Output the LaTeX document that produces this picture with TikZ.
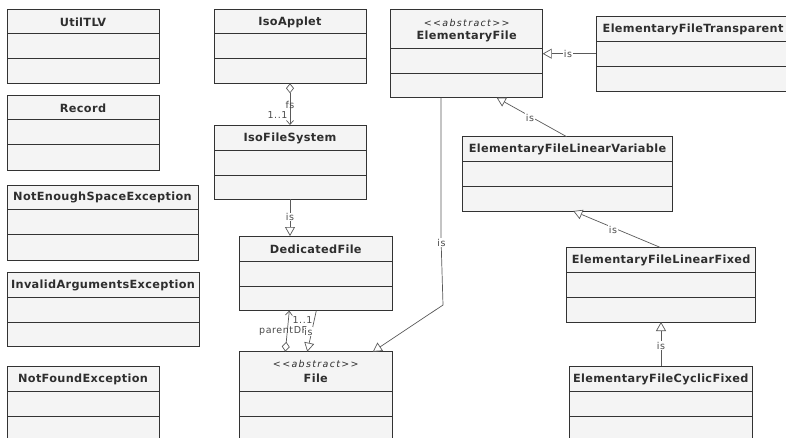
\documentclass[tikz,border=0pt]{standalone}
\usepackage{fontspec}
\setmainfont{DejaVu Sans}
\newfontfamily\titlefont[LetterSpace=3]{DejaVu Sans}
\newfontfamily\stereofont[LetterSpace=14]{DejaVu Sans}
\newfontfamily\lblfont[LetterSpace=6]{DejaVu Sans}
\usetikzlibrary{arrows.meta,calc}

\definecolor{boxfill}{HTML}{F4F4F4}
\definecolor{boxdraw}{HTML}{333333}
\definecolor{titlecol}{HTML}{2E2E2E}
\definecolor{conncol}{HTML}{5A5A5A}
\definecolor{lblcol}{HTML}{4A4A4A}

\tikzset{
  classbox/.style={draw=boxdraw, fill=boxfill, line width=1pt, rectangle,
    inner sep=0pt, outer sep=0pt, anchor=north west},
  sepline/.style={draw=boxdraw, line width=1pt},
  title/.style={font=\titlefont\bfseries\fontsize{11.3}{13}\selectfont,
    text=titlecol, inner sep=0pt},
  stereo/.style={font=\stereofont\itshape\fontsize{9.5}{10}\selectfont,
    text=titlecol, inner sep=0pt},
  conn/.style={draw=conncol, line width=0.7pt},
  lbl/.style={font=\lblfont\fontsize{9.5}{10}\selectfont, text=lblcol,
    inner sep=0pt},
  lblbg/.style={lbl, fill=white, inner sep=0.6pt},
  gen/.style={conn, -{Triangle[open, length=9pt, width=10pt, fill=white]}},
  agg/.style={conn, {Diamond[open, length=10pt, width=8pt, fill=white]}-{Straight Barb[length=4pt, width=7pt]}}
}

% class box: name, left, top, width, height, header height
\newcommand\umlbox[6]{%
  \node[classbox, minimum width=#4pt, minimum height=#5pt] (#1) at (#2,#3) {};
  \draw[sepline] ($(#1.north west)+(0,#6)$) -- ($(#1.north east)+(0,#6)$);
  \draw[sepline] ($(#1.north west)+(0,#6+25)$) -- ($(#1.north east)+(0,#6+25)$);
}
% single-line header title
\newcommand\umltitle[3]{%
  \node[title] at ($(#1.north)+(0,#2/2+0.6)$) {#3};
}

\begin{document}
\begin{tikzpicture}[x=1pt, y=-1pt]
\useasboundingbox (0,0) rectangle (786,437);
\clip (0,0) rectangle (786,437);
\fill[white] (0,0) rectangle (786,437);

% left column
\umlbox{utiltlv}{7}{9.3}{152}{74}{24.5}
\umltitle{utiltlv}{24.5}{UtilTLV}
\umlbox{record}{7}{95}{152}{75}{24.5}
\umltitle{record}{24.5}{Record}
\umlbox{nespace}{7}{185}{191}{75}{24.5}
\umltitle{nespace}{24.5}{NotEnoughSpaceException}
\umlbox{invargs}{7}{272.3}{192}{74.5}{25}
\umltitle{invargs}{25}{InvalidArgumentsException}
\umlbox{notfound}{7}{366}{152}{100}{25}
\umltitle{notfound}{25}{NotFoundException}

% middle column
\umlbox{isoapplet}{214}{9.3}{152}{74}{24.5}
\umltitle{isoapplet}{24.5}{IsoApplet}
\umlbox{isofs}{214}{125}{152}{74}{25}
\umltitle{isofs}{25}{IsoFileSystem}
\umlbox{dedfile}{239.3}{236}{153}{74.7}{25}
\umltitle{dedfile}{25}{DedicatedFile}
\umlbox{file}{239.3}{351.7}{153}{100}{39.3}
\node[stereo] at ($(file.north)+(0,12.6)$) {<<abstract>>};
\node[title] at ($(file.north)+(0,26.5)$) {File};

% right part
\umlbox{efile}{390.7}{9}{152}{88.7}{39.3}
\node[stereo] at ($(efile.north)+(0,13.7)$) {<<abstract>>};
\node[title] at ($(efile.north)+(0,27.2)$) {ElementaryFile};
\umlbox{eftrans}{596}{16.7}{200}{74.3}{25}
\node[title, anchor=west] at ($(eftrans.north west)+(6.5,13.1)$) {ElementaryFileTransparent};
\umlbox{eflv}{462.3}{136.7}{210.4}{74.3}{25}
\umltitle{eflv}{25}{ElementaryFileLinearVariable}
\umlbox{eflf}{566.7}{247.3}{189}{74.7}{25}
\umltitle{eflf}{25}{ElementaryFileLinearFixed}
\umlbox{efcf}{569.3}{366}{183}{100}{25}
\umltitle{efcf}{25}{ElementaryFileCyclicFixed}

% IsoApplet aggregates IsoFileSystem
\draw[agg] (isoapplet.south) -- (isofs.north);
\node[lbl] at (290,105) {fs};
\node[lbl] at (277.5,115.5) {1..1};

% IsoFileSystem is a DedicatedFile
\draw[gen] (isofs.south) -- (isofs.south |- dedfile.north);
\node[lblbg] at (290,217) {is};

% File references its parent DedicatedFile
\draw[agg] ($(file.north west)+(46,0)$) -- ($(dedfile.south west)+(50,0)$);
\node[lbl, anchor=west] at (259,331.5) {parentDF};
\node[lbl] at (302.5,320) {1..1};

% DedicatedFile is a File
\draw[gen] ($(dedfile.south west)+(77,0)$) -- ($(file.north west)+(68,0)$);
\node[lblbg] at (308.5,331.5) {is};

% ElementaryFile is a File
\coordinate (efbend) at (443,305);
\draw[gen] ($(efile.south west)+(50.3,0)$) -- ($(efile.south west)+(50.3,140)$)
  -- (efbend) -- ($(file.north east)+(-19.5,0)$);
\node[lblbg] at (441.5,242.5) {is};

% ElementaryFileTransparent is an ElementaryFile
\draw[gen] (eftrans.west |- 0,53.7) -- (efile.east |- 0,53.7);
\node[lblbg] at (568,53.7) {is};

% ElementaryFileLinearVariable is an ElementaryFile
\draw[gen] ($(eflv.north west)+(104.4,0)$) -- ($(efile.south west)+(106,0)$);
\node[lblbg] at (530,117.5) {is};

% ElementaryFileLinearFixed is an ElementaryFileLinearVariable
\draw[gen] ($(eflf.north west)+(93.3,0)$) -- ($(eflv.south west)+(111,0)$);
\node[lblbg] at (613,229.5) {is};

% ElementaryFileCyclicFixed is an ElementaryFileLinearFixed
\draw[gen] ($(efcf.north west)+(91.7,0)$) -- ($(eflf.south west)+(94.3,0)$);
\node[lblbg] at (661,345.5) {is};
\end{tikzpicture}
\end{document}
